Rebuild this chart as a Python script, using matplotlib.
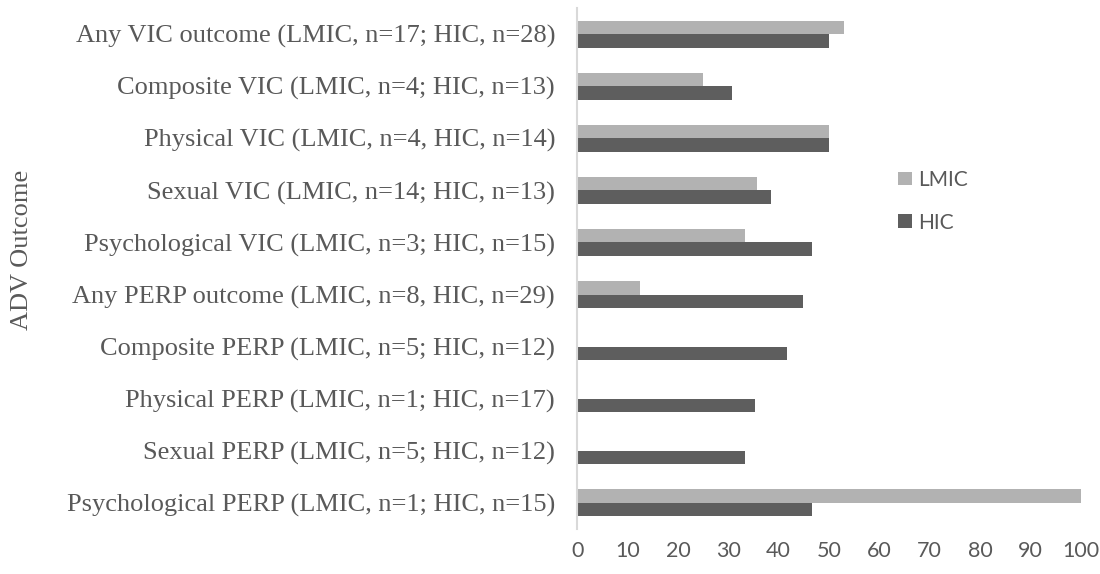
import matplotlib
matplotlib.use("Agg")
import matplotlib.pyplot as plt
import numpy as np

categories = [
    "Any VIC outcome (LMIC, n=17; HIC, n=28)",
    "Composite VIC (LMIC, n=4; HIC, n=13)",
    "Physical VIC (LMIC, n=4, HIC, n=14)",
    "Sexual VIC (LMIC, n=14; HIC, n=13)",
    "Psychological VIC (LMIC, n=3; HIC, n=15)",
    "Any PERP outcome (LMIC, n=8, HIC, n=29)",
    "Composite PERP (LMIC, n=5; HIC, n=12)",
    "Physical PERP (LMIC, n=1; HIC, n=17)",
    "Sexual PERP (LMIC, n=5; HIC, n=12)",
    "Psychological PERP (LMIC, n=1; HIC, n=15)",
]
lmic = [52.9, 25.0, 50.0, 35.7, 33.3, 12.5, 0, 0, 0, 100.0]
hic = [50.0, 30.8, 50.0, 38.5, 46.7, 44.8, 41.7, 35.3, 33.3, 46.7]

grey_text = "#595959"

fig = plt.figure(figsize=(11, 5.74), dpi=100)
ax = fig.add_axes([0.5248, 0.0784, 0.4576, 0.9077])

y = np.arange(len(categories))
h = 0.259
ax.barh(y - h / 2, lmic, height=h, color="#b2b2b2", label="LMIC")
ax.barh(y + h / 2, hic, height=h, color="#5e5e5e", label="HIC")

ax.set_xlim(0, 100)
ax.set_ylim(len(categories) - 0.5, -0.5)
ax.set_xticks(np.arange(0, 101, 10))
ax.set_yticks(y)
ax.set_yticklabels(categories, fontfamily="Liberation Serif", fontsize=19, color=grey_text)
for lab in ax.get_xticklabels():
    lab.set_fontfamily("Lato")
    lab.set_fontsize(15.5)
    lab.set_color(grey_text)
ax.tick_params(axis="y", length=0, pad=16)
ax.tick_params(axis="x", length=0, pad=9)

for s in ["top", "right", "bottom"]:
    ax.spines[s].set_visible(False)
ax.spines["left"].set_color("#d9d9d9")
ax.spines["left"].set_linewidth(1.5)

fig.text(0.02, 0.565, "ADV Outcome", rotation=90, ha="center", va="center",
         fontfamily="Liberation Serif", fontsize=19, color=grey_text)

leg = ax.legend(loc="center left", bbox_to_anchor=(0.6, 0.629), frameon=False,
                handlelength=0.65, handleheight=0.65, handletextpad=0.3,
                labelspacing=1.1, prop={"family": "Lato", "size": 15})
for t in leg.get_texts():
    t.set_color(grey_text)

fig.savefig("out.png", dpi=100)
